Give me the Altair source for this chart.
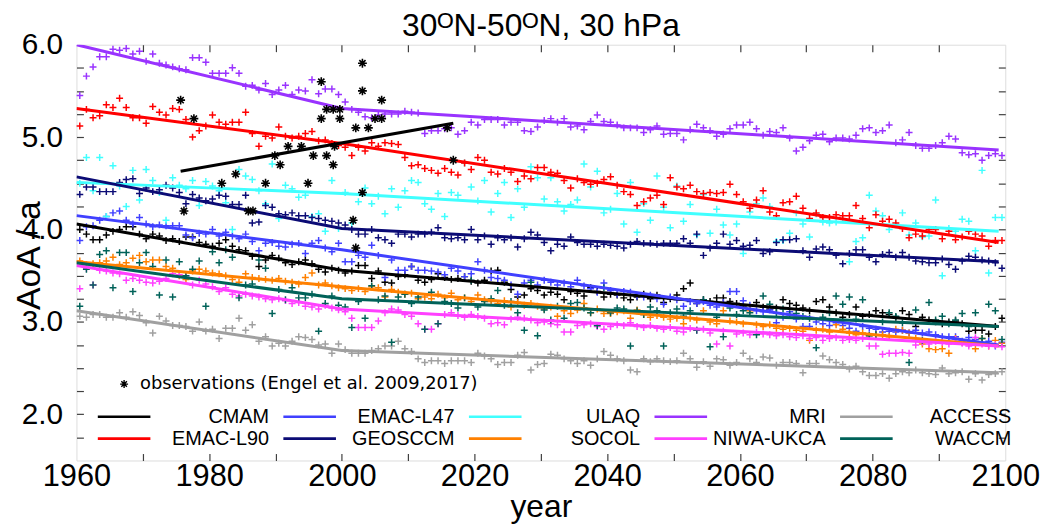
import altair as alt
import pandas as pd

# ---------------- data ----------------
title_text = "30ᴼN-50ᴼN, 30 hPa"
models = ["CMAM", "EMAC-L47", "ULAQ", "MRI", "ACCESS",
          "EMAC-L90", "GEOSCCM", "SOCOL", "NIWA-UKCA", "WACCM"]
colors = ["#000000", "#4040ff", "#40ffff", "#9933ff", "#a0a0a0",
          "#ff0000", "#0b0b75", "#ff8000", "#ff40ff", "#006259"]

years = list(range(1960, 2100))

aoa_mri = [5.45, 5.66, 5.76, 5.87, 5.87, 5.95, 5.94, 5.96, 5.90, 5.93,
           5.82, 5.90, 5.80, 5.78, 5.76, 5.74, 5.73, 5.86, 5.86, 5.81,
           5.69, 5.69, 5.69, 5.75, 5.69, 5.55, 5.56, 5.51, 5.58, 5.46,
           5.51, 5.56, 5.46, 5.51, 5.50, 5.62, 5.47, 5.52, 5.52, 5.46,
           5.38, 5.30, 5.27, 5.22, 5.21, 5.24, 5.25, 5.25, 5.25, 5.28,
           5.27, 5.26, 5.04, 5.07, 5.07, 5.09, 5.10, 5.03, 5.07, 5.16,
           5.13, 5.19, 5.19, 5.19, 5.13, 5.16, 5.16, 5.07, 5.06, 5.11,
           5.18, 5.20, 5.16, 5.20, 5.11, 5.12, 5.08, 5.17, 5.24, 5.17,
           5.16, 5.13, 5.10, 5.10, 5.10, 5.05, 5.08, 5.12, 5.03, 5.04,
           5.04, 4.97, 5.08, 5.14, 5.10, 5.07, 5.01, 5.03, 5.09, 5.13,
           5.13, 5.16, 5.09, 5.02, 5.06, 5.05, 5.10, 4.99, 4.85, 4.89,
           4.96, 5.02, 5.03, 4.95, 4.99, 4.99, 4.98, 5.02, 5.09, 5.10,
           5.05, 5.07, 5.13, 4.94, 4.97, 5.05, 4.91, 4.88, 4.88, 4.91,
           4.94, 5.01, 4.98, 4.83, 4.81, 4.82, 4.75, 4.80, 4.82, 4.80]

aoa_emac_l90 = [5.12, 5.30, 5.21, 5.23, 5.35, 5.32, 5.42, 5.32, 5.21, 5.21,
                5.15, 5.33, 5.27, 5.24, 5.31, 5.30, 5.19, 5.00, 5.07, 5.12,
                5.24, 5.16, 5.14, 5.16, 5.16, 5.27, 5.04, 4.90, 5.01, 4.99,
                5.11, 5.01, 4.99, 5.01, 5.04, 5.06, 4.96, 4.97, 4.93, 4.91,
                4.89, 4.80, 4.89, 4.85, 4.94, 4.90, 4.94, 4.93, 4.92, 4.78,
                4.69, 4.70, 4.66, 4.64, 4.61, 4.66, 4.62, 4.59, 4.72, 4.65,
                4.78, 4.75, 4.62, 4.60, 4.66, 4.62, 4.52, 4.58, 4.55, 4.67,
                4.67, 4.62, 4.61, 4.53, 4.45, 4.55, 4.51, 4.49, 4.50, 4.54,
                4.57, 4.48, 4.41, 4.38, 4.26, 4.30, 4.34, 4.37, 4.27, 4.56,
                4.46, 4.44, 4.48, 4.41, 4.39, 4.40, 4.39, 4.40, 4.49, 4.38,
                4.30, 4.23, 4.32, 4.42, 4.19, 4.15, 4.29, 4.30, 4.36, 4.23,
                4.12, 4.18, 4.13, 4.13, 4.16, 4.15, 4.15, 4.26, 4.12, 4.02,
                4.16, 4.09, 4.11, 4.07, 4.01, 3.91, 3.95, 3.93, 4.00, 4.00,
                3.90, 3.98, 3.89, 3.92, 3.98, 3.95, 3.93, 3.82, 3.88, 3.88]

aoa_ulaq = [4.50, 4.78, 4.42, 4.78, 4.14, 4.69, 4.47, 4.25, 4.64, 4.32,
            4.65, 4.53, 4.40, 4.10, 4.56, 4.48, 4.44, 4.53, 4.26, 4.52,
            4.47, 4.42, 4.29, 4.00, 4.65, 4.58, 4.54, 4.42, 4.28, 4.71,
            4.12, 4.48, 4.44, 4.35, 4.37, 4.14, 4.17, 3.98, 4.53, 4.01,
            4.40, 4.07, 4.30, 4.45, 4.28, 4.36, 4.17, 4.44, 4.24, 4.42,
            4.53, 4.51, 4.28, 4.22, 4.39, 4.14, 4.40, 4.37, 4.72, 4.46,
            4.31, 4.53, 4.19, 4.39, 4.51, 4.13, 4.44, 4.24, 4.68, 4.56,
            4.33, 4.56, 4.30, 4.20, 4.27, 4.32, 4.71, 4.46, 4.63, 4.18,
            4.22, 4.39, 4.06, 4.51, 3.97, 4.28, 4.10, 4.58, 4.24, 4.02,
            4.47, 4.09, 4.27, 3.94, 4.38, 3.96, 4.22, 4.05, 3.94, 4.06,
            3.74, 4.19, 4.28, 4.34, 4.25, 3.87, 3.88, 3.96, 4.18, 4.06,
            3.92, 4.17, 4.08, 4.07, 4.08, 4.11, 3.65, 3.87, 3.91, 4.37,
            4.20, 4.15, 4.00, 4.05, 4.18, 3.94, 4.07, 3.92, 3.93, 4.32,
            3.50, 4.01, 3.98, 4.11, 4.09, 3.77, 4.64, 3.53, 4.13, 4.13]

aoa_geosccm = [4.38, 4.46, 4.46, 4.41, 4.41, 4.41, 4.51, 4.54, 4.55, 4.39,
               4.45, 4.41, 4.43, 4.48, 4.45, 4.40, 4.28, 4.38, 4.34, 4.31,
               4.33, 4.37, 4.36, 4.27, 4.27, 4.37, 4.07, 4.08, 4.26, 4.24,
               4.17, 4.16, 4.18, 4.15, 4.15, 4.13, 4.12, 4.10, 4.09, 4.07,
               4.05, 4.00, 3.95, 3.95, 4.00, 3.91, 3.89, 3.85, 3.95, 3.95,
               3.92, 3.95, 3.95, 3.97, 4.02, 3.91, 3.90, 3.91, 3.89, 4.00,
               3.89, 3.93, 3.84, 3.91, 3.89, 3.91, 3.81, 3.90, 3.97, 3.94,
               3.86, 3.77, 3.84, 3.82, 3.92, 3.86, 3.84, 3.84, 3.82, 3.84,
               3.83, 3.82, 3.80, 3.84, 3.87, 3.85, 3.85, 3.84, 3.85, 3.85,
               3.85, 3.90, 3.85, 3.95, 3.72, 3.80, 3.85, 3.95, 3.84, 3.88,
               3.82, 3.83, 3.88, 3.74, 3.76, 3.86, 3.89, 3.89, 3.90, 3.77,
               3.70, 3.79, 3.81, 3.78, 3.72, 3.63, 3.74, 3.78, 3.78, 3.70,
               3.65, 3.73, 3.75, 3.70, 3.75, 3.70, 3.66, 3.65, 3.64, 3.64,
               3.68, 3.62, 3.57, 3.66, 3.71, 3.70, 3.67, 3.66, 3.64, 3.58]

aoa_emac_l47 = [3.88, 4.03, 4.04, 4.10, 4.14, 4.18, 4.20, 4.10, 4.06, 4.13,
                4.06, 4.03, 4.05, 4.04, 4.04, 4.04, 3.94, 3.91, 3.96, 3.95,
                4.00, 3.93, 3.97, 3.93, 3.90, 3.95, 3.87, 3.77, 3.85, 3.86,
                3.82, 3.81, 3.84, 3.85, 3.74, 3.85, 3.88, 3.80, 3.76, 3.85,
                3.65, 3.65, 3.72, 3.70, 3.83, 3.72, 3.48, 3.67, 3.56, 3.56,
                3.60, 3.56, 3.56, 3.55, 3.54, 3.51, 3.58, 3.55, 3.49, 3.52,
                3.65, 3.56, 3.48, 3.47, 3.45, 3.40, 3.30, 3.42, 3.45, 3.40,
                3.45, 3.43, 3.40, 3.42, 3.38, 3.45, 3.39, 3.36, 3.32, 3.42,
                3.34, 3.30, 3.33, 3.32, 3.28, 3.27, 3.29, 3.25, 3.19, 3.27,
                3.24, 3.17, 3.22, 3.20, 3.22, 3.18, 3.16, 3.21, 3.33, 3.33,
                3.23, 3.18, 3.12, 3.11, 3.13, 2.99, 3.05, 3.11, 3.03, 2.95,
                2.95, 3.00, 2.98, 2.96, 2.99, 2.96, 2.93, 2.90, 2.95, 2.93,
                2.92, 2.89, 2.90, 2.89, 2.91, 2.88, 2.91, 2.88, 2.89, 2.86,
                2.84, 2.84, 2.84, 2.79, 2.83, 2.81, 2.78, 2.79, 2.74, 2.78]

aoa_cmam = [4.00, 3.95, 3.89, 3.89, 3.94, 3.98, 4.00, 4.03, 4.03, 3.95,
            3.90, 3.95, 3.93, 3.88, 3.90, 3.87, 3.92, 3.92, 3.86, 3.84,
            3.82, 3.85, 3.89, 3.82, 3.78, 3.77, 3.71, 3.60, 3.67, 3.72,
            3.69, 3.64, 3.62, 3.65, 3.67, 3.63, 3.57, 3.54, 3.58, 3.56,
            3.53, 3.55, 3.61, 3.61, 3.47, 3.55, 3.43, 3.42, 3.49, 3.51,
            3.60, 3.45, 3.43, 3.46, 3.52, 3.48, 3.46, 3.47, 3.49, 3.44,
            3.42, 3.45, 3.55, 3.56, 3.43, 3.35, 3.27, 3.29, 3.36, 3.34,
            3.29, 3.32, 3.30, 3.24, 3.33, 3.31, 3.28, 3.37, 3.33, 3.27,
            3.30, 3.29, 3.26, 3.24, 3.27, 3.30, 3.25, 3.29, 3.21, 3.25,
            3.29, 3.36, 3.42, 3.20, 3.24, 3.22, 3.26, 3.26, 3.22, 3.20,
            3.16, 3.13, 3.21, 3.16, 3.14, 3.15, 3.24, 3.20, 3.18, 3.15,
            3.12, 3.22, 3.24, 3.16, 3.10, 3.05, 3.08, 3.16, 3.06, 3.08,
            3.12, 3.10, 3.08, 3.05, 3.12, 3.08, 2.95, 3.05, 3.02, 3.00,
            2.98, 3.00, 3.01, 2.98, 2.90, 2.91, 2.91, 2.87, 2.95, 3.04]

aoa_socol = [3.66, 3.62, 3.63, 3.64, 3.66, 3.70, 3.62, 3.64, 3.69, 3.72,
             3.65, 3.67, 3.67, 3.60, 3.58, 3.50, 3.46, 3.55, 3.57, 3.55,
             3.53, 3.52, 3.50, 3.46, 3.43, 3.52, 3.48, 3.47, 3.46, 3.45,
             3.47, 3.44, 3.43, 3.41, 3.48, 3.53, 3.40, 3.42, 3.39, 3.37,
             3.36, 3.34, 3.36, 3.33, 3.38, 3.37, 3.27, 3.35, 3.32, 3.30,
             3.31, 3.25, 3.27, 3.25, 3.30, 3.26, 3.31, 3.24, 3.26, 3.22,
             3.29, 3.24, 3.22, 3.20, 3.23, 3.16, 3.21, 3.18, 3.20, 3.17,
             3.14, 3.16, 3.06, 3.12, 3.09, 3.13, 3.20, 3.10, 3.14, 3.09,
             3.09, 3.11, 3.12, 3.04, 3.13, 3.08, 3.05, 3.07, 3.05, 3.03,
             3.04, 2.98, 3.04, 3.02, 3.12, 3.00, 2.98, 3.12, 3.01, 3.00,
             2.98, 3.12, 2.97, 2.95, 2.97, 2.93, 2.92, 2.93, 2.91, 2.90,
             2.80, 2.91, 2.92, 2.89, 2.97, 2.92, 2.88, 2.86, 2.88, 2.85,
             2.86, 2.86, 2.84, 2.92, 2.91, 2.88, 2.82, 2.76, 2.71, 2.70,
             2.71, 2.66, 2.82, 2.78, 2.76, 2.71, 2.82, 2.74, 2.80, 2.77]

aoa_waccm = [3.17, 3.57, 3.40, 3.73, 3.77, 3.37, 3.75, 3.75, 3.33, 3.64,
             3.75, 3.60, 3.29, 3.67, 3.27, 3.65, 3.50, 3.57, 3.66, 3.17,
             3.76, 3.64, 3.78, 3.70, 3.26, 3.40, 3.41, 3.67, 3.58, 3.09,
             3.35, 3.24, 3.37, 3.26, 3.26, 3.30, 2.90, 3.20, 3.28, 3.18,
             3.16, 2.94, 3.22, 3.04, 3.39, 3.24, 3.28, 2.78, 3.27, 3.30,
             3.20, 3.27, 2.92, 3.32, 2.98, 3.22, 3.20, 3.15, 3.26, 3.45,
             3.16, 3.22, 3.25, 3.34, 3.18, 3.22, 3.10, 2.91, 3.43, 2.85,
             3.13, 3.02, 3.17, 3.04, 3.20, 3.21, 3.15, 3.10, 2.96, 3.37,
             3.10, 3.15, 3.14, 2.74, 3.12, 3.08, 3.16, 3.12, 2.74, 3.10,
             3.14, 3.06, 3.12, 2.91, 3.24, 2.73, 3.05, 2.84, 3.15, 3.08,
             3.12, 3.10, 2.86, 3.28, 3.19, 3.10, 3.14, 3.08, 3.09, 3.06,
             3.04, 2.72, 3.05, 3.10, 3.28, 3.19, 3.27, 3.03, 3.24, 2.85,
             2.86, 3.00, 3.10, 3.06, 2.99, 2.56, 3.13, 2.80, 3.21, 3.02,
             3.06, 2.98, 3.02, 3.09, 2.95, 3.10, 2.82, 3.19, 3.12, 2.81]

aoa_niwa_ukca = [3.36, 3.58, 3.40, 3.56, 3.55, 3.53, 3.52, 3.45, 3.47, 3.45,
                 3.43, 3.42, 3.44, 3.47, 3.52, 3.51, 3.50, 3.40, 3.45, 3.41,
                 3.38, 3.33, 3.37, 3.30, 3.28, 3.30, 3.28, 3.27, 3.25, 3.24,
                 3.25, 3.23, 3.20, 3.21, 3.17, 3.16, 3.14, 3.18, 3.15, 3.13,
                 3.11, 3.04, 2.94, 2.94, 2.94, 3.01, 3.10, 3.14, 3.13, 3.08,
                 3.06, 2.98, 2.92, 2.92, 2.98, 3.08, 3.10, 3.07, 3.05, 3.08,
                 3.06, 3.04, 2.98, 2.99, 2.97, 3.03, 3.05, 3.04, 3.02, 2.99,
                 3.00, 2.98, 2.97, 2.89, 2.89, 2.96, 2.97, 2.98, 2.95, 2.92,
                 2.95, 2.97, 2.96, 2.99, 2.95, 2.94, 2.96, 2.93, 2.92, 2.94,
                 2.90, 2.89, 2.93, 2.91, 2.92, 2.88, 2.76, 2.90, 2.74, 2.87,
                 2.88, 2.86, 2.89, 2.87, 2.86, 2.85, 2.86, 2.84, 2.83, 2.85,
                 2.82, 2.83, 2.80, 2.82, 2.83, 2.80, 2.81, 2.80, 2.82, 2.74,
                 2.74, 2.65, 2.66, 2.66, 2.67, 2.66, 2.75, 2.78, 2.76, 2.79,
                 2.78, 2.76, 2.81, 2.77, 2.74, 2.83, 2.76, 2.74, 2.75, 2.73]

aoa_access = [3.06, 3.05, 3.08, 3.08, 3.05, 3.05, 3.10, 3.05, 3.11, 3.07,
              2.99, 2.88, 3.06, 3.01, 2.96, 2.96, 2.95, 2.90, 3.00, 2.90,
              2.92, 2.82, 2.93, 2.93, 3.04, 2.91, 2.97, 2.79, 2.84, 2.74,
              2.77, 2.74, 2.79, 2.84, 2.83, 2.81, 2.75, 2.76, 2.66, 2.76,
              2.70, 2.66, 2.66, 2.66, 2.69, 2.71, 2.74, 2.74, 2.79, 2.71,
              2.68, 2.60, 2.56, 2.58, 2.58, 2.55, 2.58, 2.58, 2.58, 2.56,
              2.66, 2.63, 2.60, 2.54, 2.56, 2.56, 2.64, 2.67, 2.48, 2.54,
              2.55, 2.65, 2.64, 2.60, 2.58, 2.55, 2.58, 2.53, 2.60, 2.68,
              2.64, 2.60, 2.58, 2.48, 2.46, 2.60, 2.57, 2.60, 2.58, 2.57,
              2.58, 2.66, 2.60, 2.51, 2.57, 2.52, 2.60, 2.59, 2.53, 2.56,
              2.66, 2.60, 2.56, 2.62, 2.61, 2.53, 2.56, 2.56, 2.55, 2.45,
              2.55, 2.55, 2.63, 2.59, 2.56, 2.54, 2.49, 2.52, 2.46, 2.42,
              2.42, 2.44, 2.39, 2.44, 2.46, 2.45, 2.48, 2.45, 2.44, 2.43,
              2.50, 2.44, 2.45, 2.46, 2.38, 2.44, 2.37, 2.43, 2.44, 2.46]

# trend lines (knots at 1960, 2000, 2099)
trend_years = [1960, 2000, 2099]
trend_cmam = [4.06, 3.56, 2.95]
trend_emac_l47 = [4.15, 3.78, 2.75]
trend_ulaq = [4.51, 4.39, 3.98]
trend_mri = [6.00, 5.31, 4.86]
trend_access = [3.12, 2.69, 2.45]
trend_emac_l90 = [5.31, 4.93, 3.86]
trend_geosccm = [4.57, 4.01, 3.65]
trend_socol = [3.65, 3.38, 2.74]
trend_niwa_ukca = [3.61, 3.14, 2.74]
trend_waccm = [3.64, 3.25, 2.95]

# observations (Engel et al. 2009, 2017)
obs_label = "observations (Engel et al. 2009,2017)"
obs_year = [1975.7, 1977.7, 1976.2, 1981.9, 1984.0, 1985.9, 1986.6, 1988.5,
            1989.9, 1990.7, 1991.9, 1993.9, 1994.9, 1995.7, 1996.9, 1996.9,
            1997.7, 1997.7, 1998.7, 1999.7, 1998.7, 1998.9, 1999.7, 2001.7,
            2002.1, 2002.1, 2003.1, 2003.1, 2003.1, 2004.0, 2005.0, 2006.0,
            2006.0, 2015.9, 2016.8]
obs_aoa = [5.4, 5.2, 4.2, 4.5, 4.6, 4.2, 4.2, 4.5,
           4.8, 4.7, 4.9, 4.9, 4.5, 4.8, 5.6, 5.2,
           4.8, 5.3, 5.3, 5.3, 4.7, 4.9, 5.2, 4.1,
           3.8, 5.1, 5.8, 5.5, 4.4, 5.1, 5.2, 5.4,
           5.2, 5.1, 4.75]
obs_fit_year = [1975.7, 2016.8]
obs_fit_aoa = [4.63, 5.15]

series = {
    "CMAM": (aoa_cmam, trend_cmam),
    "EMAC-L47": (aoa_emac_l47, trend_emac_l47),
    "ULAQ": (aoa_ulaq, trend_ulaq),
    "MRI": (aoa_mri, trend_mri),
    "ACCESS": (aoa_access, trend_access),
    "EMAC-L90": (aoa_emac_l90, trend_emac_l90),
    "GEOSCCM": (aoa_geosccm, trend_geosccm),
    "SOCOL": (aoa_socol, trend_socol),
    "NIWA-UKCA": (aoa_niwa_ukca, trend_niwa_ukca),
    "WACCM": (aoa_waccm, trend_waccm),
}

pts_rows, trend_rows = [], []
for m in models:
    vals, tr = series[m]
    for y, v in zip(years, vals):
        pts_rows.append({"model": m, "year": y + 0.5, "aoa": v})
    for y, v in zip(trend_years, tr):
        trend_rows.append({"model": m, "year": y, "aoa": v})
df_pts = pd.DataFrame(pts_rows)
df_trend = pd.DataFrame(trend_rows)
df_obs = pd.DataFrame({"year": obs_year, "aoa": obs_aoa, "label": obs_label})
df_fit = pd.DataFrame({"year": obs_fit_year, "aoa": obs_fit_aoa})
df_title = pd.DataFrame({"t": [title_text]})

# ---------------- chart ----------------
W, H = 936, 419
FONT = "Liberation Sans"
PLUS = "M-1,0L1,0M0,-1L0,1"
ASTER = "M-1,0L1,0M0,-1L0,1M-0.7,-0.7L0.7,0.7M-0.7,0.7L0.7,-0.7"

xs = alt.Scale(domain=[1960, 2100], nice=False, zero=False)
ys = alt.Scale(domain=[1.5, 6.0], nice=False, zero=False)
cs = alt.Scale(domain=models, range=colors)

x_minor = [1970 + 10 * i for i in range(13)]
y_minor = [1.75 + 0.25 * i for i in range(17)]

x_label_axis = alt.Axis(orient="bottom", values=[1960, 1980, 2000, 2020, 2040, 2060, 2080, 2100],
                        format="d", ticks=False, domain=False, grid=False,
                        labelFont=FONT, labelFontSize=31, labelPadding=1, labelColor="black",
                        labelFlush=False, labelOverlap=False,
                        title="year", titleFont=FONT, titleFontSize=32, titleFontWeight="normal",
                        titleColor="black", titleBaseline="alphabetic", titleY=56)
y_label_axis = alt.Axis(orient="left", values=[2, 3, 4, 5, 6], format=".1f",
                        ticks=False, domain=False, grid=False,
                        labelFont=FONT, labelFontSize=30, labelPadding=14, labelColor="black",
                        labelFlush=False, labelOverlap=False,
                        title="AoA  /  a", titleFont=FONT, titleFontSize=34, titleFontWeight="normal",
                        titleColor="black", titleAngle=-90, titleBaseline="alphabetic",
                        titleAlign="center", titleX=-37, titleY=212)

def tick_axis(orient, values, offset):
    return alt.Axis(orient=orient, values=values, offset=offset, labels=False, domain=False,
                    grid=False, ticks=True, tickSize=7, tickColor="#404040", tickWidth=1.2,
                    title=None)

color_legend = alt.Legend(
    orient="none", legendX=20, legendY=364, columns=5, direction="horizontal",
    title=None, symbolType="stroke", symbolSize=2809, symbolStrokeWidth=2.6,
    clipHeight=22, labelOffset=118, labelAlign="right", columnPadding=13, rowPadding=0,
    labelFont=FONT, labelFontSize=20, labelColor="black", labelLimit=200, padding=0,
)
obs_legend = alt.Legend(
    orient="none", legendX=39, legendY=331, title=None, symbolSize=64,
    symbolStrokeColor="black", symbolFillColor="transparent", symbolStrokeWidth=1.4,
    clipHeight=22, labelOffset=7, labelFont="DejaVu Sans", labelFontSize=18,
    labelColor="black", labelLimit=500, padding=0,
)

scatter = alt.Chart(df_pts).mark_point(
    shape=PLUS, size=49, strokeWidth=1.5, filled=False, opacity=1, clip=True
).encode(
    x=alt.X("year:Q", scale=xs, axis=x_label_axis),
    y=alt.Y("aoa:Q", scale=ys, axis=y_label_axis),
    color=alt.Color("model:N", scale=cs, legend=None),
)

trend = alt.Chart(df_trend).mark_line(strokeWidth=3, clip=True).encode(
    x=alt.X("year:Q", scale=xs, axis=tick_axis("top", x_minor, -H)),
    y=alt.Y("aoa:Q", scale=ys, axis=tick_axis("right", y_minor, -W)),
    color=alt.Color("model:N", scale=cs, legend=color_legend, sort=models),
)

fit = alt.Chart(df_fit).mark_line(strokeWidth=3, color="black").encode(
    x=alt.X("year:Q", scale=xs, axis=None),
    y=alt.Y("aoa:Q", scale=ys, axis=None),
)

obs = alt.Chart(df_obs).mark_point(
    filled=False, strokeWidth=1.6, size=80, color="black", opacity=1
).encode(
    x=alt.X("year:Q", scale=xs, axis=tick_axis("bottom", x_minor, -H)),
    y=alt.Y("aoa:Q", scale=ys, axis=tick_axis("left", y_minor, -W)),
    shape=alt.Shape("label:N", scale=alt.Scale(range=[ASTER]), legend=obs_legend),
)

title = alt.Chart(df_title).mark_text(
    font=FONT, fontSize=32, color="black", align="center", baseline="alphabetic"
).encode(text="t:N", x=alt.value(W / 2), y=alt.value(-9))

chart = alt.layer(scatter, trend, fit, obs, title).resolve_axis(
    x="independent", y="independent"
).resolve_legend(color="independent").properties(
    width=W, height=H,
    padding={"left": 69, "top": 35, "right": 37, "bottom": 62},
    autosize=alt.AutoSizeParams(type="none"),
).configure_view(stroke="#3a3a3a", strokeWidth=1.5).configure(background="white")

chart.save("out.html", embed_options={"renderer": "svg", "actions": False})
